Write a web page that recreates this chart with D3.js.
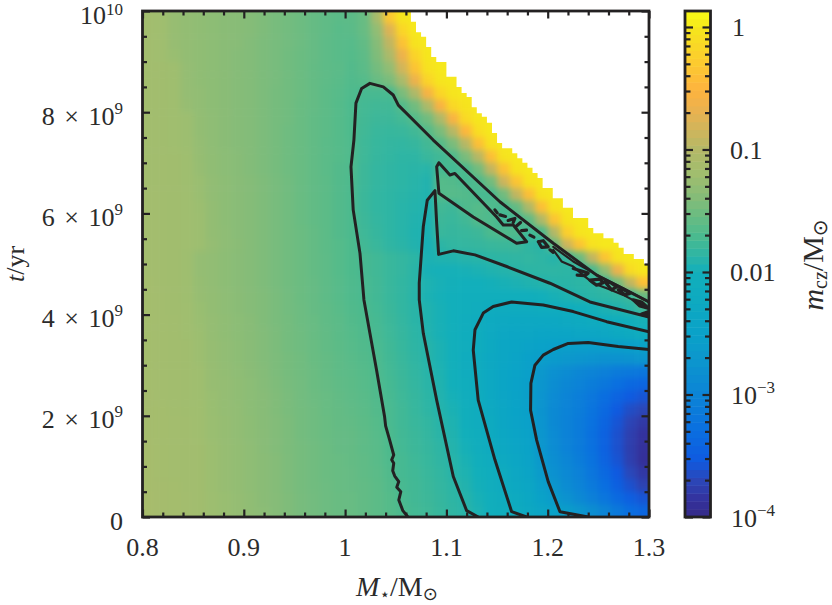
<!DOCTYPE html>
<html><head><meta charset="utf-8">
<script src="https://cdn.jsdelivr.net/npm/d3@7/dist/d3.min.js"></script>
<style>
html,body{margin:0;padding:0;background:#fff}
svg{display:block}
text{font-family:"Liberation Serif",serif;fill:#2b2b2b}
</style></head><body><svg id="c" width="832" height="605"></svg>
<script>
// Grid: -100*log10(m_cz/Msun); rows from t = 10 Gyr (top) down to 0, columns from M = 0.8 to 1.3
const depthRows=[
[118,120,126,129,131,133,135,137,139,142,146,149,152,156,159,162,161,155,112,33,2,0,0,0,0,0,0,0,0,0,0,0,0,0,0,0,0,0,0,0],
[118,120,126,129,131,133,135,137,139,142,146,149,152,156,159,163,162,155,130,75,17,0,0,0,0,0,0,0,0,0,0,0,0,0,0,0,0,0,0,0],
[118,120,126,129,131,133,135,137,140,143,146,149,152,156,160,163,164,158,138,92,37,4,0,0,0,0,0,0,0,0,0,0,0,0,0,0,0,0,0,0],
[118,120,125,129,131,133,135,138,140,143,146,150,153,156,160,163,165,160,142,108,65,20,1,0,0,0,0,0,0,0,0,0,0,0,0,0,0,0,0,0],
[118,119,121,128,131,133,135,138,140,143,146,150,153,157,160,162,166,162,148,130,82,35,5,0,0,0,0,0,0,0,0,0,0,0,0,0,0,0,0,0],
[118,119,121,128,131,133,135,138,140,143,146,150,153,157,160,163,167,165,155,145,110,65,20,2,0,0,0,0,0,0,0,0,0,0,0,0,0,0,0,0],
[118,119,121,128,130,133,135,138,140,143,147,150,153,157,161,164,168,172,172,171,145,105,57,17,2,0,0,0,0,0,0,0,0,0,0,0,0,0,0,0],
[118,119,120,126,130,133,135,138,140,143,147,150,154,157,161,165,170,174,176,176,166,150,108,55,15,3,0,0,0,0,0,0,0,0,0,0,0,0,0,0],
[118,119,120,122,129,132,135,138,140,143,147,150,154,158,161,165,169,175,178,178,174,165,150,108,55,13,1,0,0,0,0,0,0,0,0,0,0,0,0,0],
[118,119,120,122,129,132,135,138,140,143,147,151,154,158,161,165,169,176,180,181,180,176,165,145,98,48,9,0,0,0,0,0,0,0,0,0,0,0,0,0],
[118,119,120,122,128,132,135,138,140,143,147,151,154,158,162,165,168,177,181,183,184,182,175,165,145,98,40,5,0,0,0,0,0,0,0,0,0,0,0,0],
[118,118,119,121,127,131,134,137,140,143,147,151,154,158,162,165,168,177,182,184,186,186,180,176,168,145,98,40,4,0,0,0,0,0,0,0,0,0,0,0],
[118,118,119,121,126,131,134,137,140,143,147,151,154,158,162,166,168,178,183,185,187,188,189,172,174,170,150,92,37,3,0,0,0,0,0,0,0,0,0,0],
[118,118,119,121,124,130,133,136,139,142,146,150,154,158,161,166,169,178,183,185,187,189,192,165,166,172,168,150,85,35,3,0,0,0,0,0,0,0,0,0],
[117,118,119,120,124,130,133,136,139,142,146,150,154,158,161,166,170,179,184,186,188,190,193,166,164,166,172,172,150,92,40,4,0,0,0,0,0,0,0,0],
[117,118,119,120,123,129,133,136,139,142,146,150,154,158,161,166,170,179,184,186,189,191,194,175,178,168,165,168,172,158,105,40,4,0,0,0,0,0,0,0],
[117,118,119,120,122,129,133,136,139,142,146,150,154,158,161,166,170,178,183,186,189,192,195,178,180,176,166,168,175,174,160,105,35,3,0,0,0,0,0,0],
[117,118,119,120,122,129,132,136,139,142,146,150,153,157,161,166,170,177,182,186,189,193,196,180,182,180,178,170,167,168,176,170,100,25,2,0,0,0,0,0],
[117,118,119,120,122,128,132,135,139,142,146,150,153,157,161,165,169,175,180,185,188,192,197,187,184,183,182,180,179,178,185,188,155,85,35,5,0,0,0,0],
[117,118,119,121,128,130,133,136,139,142,146,150,153,157,160,165,169,172,176,180,183,187,195,193,192,190,189,187,186,185,184,186,190,180,155,92,35,4,0,0],
[117,118,119,121,128,130,133,136,139,142,146,150,153,157,160,165,169,172,176,180,183,188,197,198,198,197,195,193,191,188,187,186,186,187,188,172,130,65,12,1],
[116,118,119,121,127,130,133,136,139,142,146,150,153,156,160,164,168,171,175,180,184,188,194,197,199,200,200,199,197,195,193,191,189,188,187,186,180,150,92,40],
[116,117,119,121,126,129,132,135,138,141,145,149,153,156,160,164,168,171,175,180,184,189,195,198,200,203,205,206,206,205,203,200,197,194,190,188,186,184,178,155],
[116,117,119,120,125,129,132,135,138,141,145,149,152,156,159,163,167,170,174,179,184,188,193,197,200,205,208,216,219,219,217,216,214,210,206,200,195,192,188,175],
[116,117,118,120,124,128,131,134,137,141,145,148,152,155,159,162,166,169,173,178,183,188,193,197,201,207,214,222,226,228,229,229,228,226,223,220,215,210,205,198],
[116,117,118,120,123,128,131,134,137,140,144,148,151,155,158,162,165,168,172,177,182,187,192,197,202,209,216,225,232,236,238,240,240,240,238,236,232,227,221,214],
[116,117,118,119,122,127,130,133,136,140,144,148,151,154,158,161,164,167,171,176,181,186,190,195,201,208,216,227,235,241,245,250,253,256,258,258,257,255,253,250],
[116,117,118,119,122,127,130,133,136,140,143,147,150,154,157,160,163,166,170,175,180,185,190,195,201,213,219,228,236,244,252,257,262,268,272,275,278,278,276,272],
[116,117,118,119,121,126,129,132,135,139,143,147,150,153,157,160,162,165,169,174,179,184,189,194,201,212,219,230,240,248,254,268,280,288,295,300,306,312,316,318],
[116,117,118,119,121,126,128,131,134,138,142,146,149,153,156,159,161,164,168,173,178,183,188,193,200,210,217,230,240,249,255,272,286,295,302,310,318,328,336,340],
[115,117,118,119,121,125,128,131,134,137,141,145,149,152,155,158,160,163,167,172,177,182,187,192,198,208,216,229,239,248,255,274,290,300,308,318,330,342,352,358],
[115,116,118,119,120,125,128,130,134,137,141,145,148,151,155,157,159,162,166,171,176,181,186,191,196,206,214,226,238,247,254,275,292,302,310,322,336,352,364,370],
[115,116,117,118,120,124,127,130,133,137,140,144,148,151,154,157,158,161,165,171,176,180,184,189,194,203,212,224,236,245,252,274,292,303,312,325,341,358,371,380],
[115,116,117,118,120,124,127,130,133,136,140,144,148,151,154,156,157,160,164,170,175,179,183,188,193,201,210,221,233,242,250,272,290,303,313,327,344,361,375,385],
[114,116,117,118,119,123,126,129,132,136,140,144,147,150,153,156,157,160,163,169,174,178,182,186,191,198,207,218,229,239,247,270,288,302,312,326,344,361,376,387],
[114,116,117,118,119,123,126,129,132,135,139,143,147,150,153,155,157,159,163,168,173,177,181,185,189,196,204,214,225,236,245,266,284,298,310,324,342,359,375,388],
[114,116,117,118,119,123,126,129,132,135,139,143,147,150,153,155,156,159,162,167,173,176,180,184,189,194,202,211,220,232,242,262,280,293,305,319,336,353,369,381],
[114,115,116,118,119,123,126,129,132,135,139,143,147,150,152,155,156,158,161,166,172,175,179,183,187,192,199,208,217,228,238,256,272,287,300,314,329,346,361,373],
[113,115,116,117,119,122,125,128,131,135,138,142,146,149,152,154,155,158,161,165,171,175,178,182,186,190,197,205,214,224,234,250,262,278,292,306,319,335,348,358],
[113,115,116,117,119,122,125,128,131,134,138,142,146,149,152,154,155,158,161,165,170,174,177,181,185,189,195,203,211,219,229,239,249,259,272,285,300,315,330,340]
];
// Upper limit of the models: mass where each step starts and top age (Gyr)
const edgeMass=[1.065,1.07,1.075,1.08,1.085,1.09,1.10,1.11,1.115,1.12,1.125,1.13,1.135,1.14,1.145,1.15,1.155,1.165,1.17,1.175,1.18,1.185,1.19,1.195,1.205,1.215,1.225,1.24,1.245,1.255,1.265,1.27,1.275,1.285,1.295,1.30];
const edgeAge=[9.79,9.58,9.49,9.29,9.09,8.99,8.70,8.50,8.38,8.30,8.10,7.98,7.91,7.79,7.59,7.39,7.29,7.19,7.09,7.00,6.90,6.80,6.70,6.50,6.30,6.11,5.91,5.71,5.61,5.51,5.42,5.32,5.20,5.10,5.00,5.00];
// Contours as [M, t(Gyr)]
const contourA=[[1.062,0],[1.057,.125],[1.053,.336],[1.055,.50],[1.051,.587],[1.053,.70],[1.049,.81],[1.047,.915],[1.048,1.06],[1.046,1.13],[1.048,1.225],[1.044,1.52],[1.040,1.80],[1.039,1.98],[1.031,2.91],[1.0245,3.63],[1.0186,4.29],[1.0147,5.21],[1.008,6.07],[1.0058,6.92],[1.0087,7.45],[1.0107,8.18],[1.0163,8.47],[1.0245,8.57],[1.0377,8.50],[1.0475,8.34],[1.0525,8.14],[1.087,7.45],[1.1528,6.23],[1.2055,5.41],[1.2483,4.78],[1.30,4.25]];
const contourB=[[1.1314,0],[1.12,.125],[1.1068,.80],[1.0904,2.31],[1.0772,3.63],[1.0732,4.29],[1.0732,4.62],[1.0772,5.74],[1.0811,6.26],[1.0887,6.45],[1.0904,5.80],[1.0923,5.19],[1.1068,5.26],[1.1282,5.18],[1.1595,4.95],[1.2022,4.62],[1.2417,4.25],[1.30,3.95]];
const contourC=[[1.1792,0],[1.1644,.105],[1.1479,1.13],[1.1314,2.31],[1.1265,3.30],[1.1282,3.70],[1.1364,4.03],[1.1462,4.16],[1.1644,4.25],[1.1956,4.19],[1.2252,4.06],[1.2582,3.86],[1.30,3.66]];
const contourD=[[1.24,0],[1.2121,.105],[1.2005,.70],[1.1891,1.52],[1.1831,2.11],[1.1834,2.64],[1.1874,3.0],[1.1956,3.20],[1.2055,3.31],[1.2203,3.43],[1.24,3.45],[1.2696,3.37],[1.30,3.31]];
const contourE=[[1.0926,7.0],[1.1035,6.76],[1.1084,6.79],[1.1496,5.93],[1.1561,5.77],[1.166,5.77],[1.1792,5.44],[1.1693,5.41],[1.1265,5.93],[1.0926,6.40],[1.0904,6.92],[1.0926,7.0]];
const lensLower=[[1.2055,5.28],[1.2137,5.05],[1.2252,4.95],[1.235,4.78],[1.2449,4.62],[1.2582,4.52],[1.2745,4.39],[1.30,4.12]];
const lensUpper=[[1.2055,5.34],[1.2252,5.05],[1.2516,4.75],[1.2745,4.52],[1.30,4.25]];
const islands=[
[[1.1479,6.07],[1.1502,6.01]],
[[1.1528,5.97],[1.1584,5.94]],
[[1.1610,5.86],[1.1676,5.90],[1.166,5.82]],
[[1.1686,5.74],[1.1732,5.82]],
[[1.1742,5.66],[1.1791,5.67]],
[[1.1824,5.57],[1.1864,5.53]],
[[1.1907,5.44],[1.1956,5.46],[1.2005,5.34],[1.1940,5.33],[1.1907,5.44]],
[[1.2022,5.28],[1.2055,5.23]],
[[1.2252,4.91],[1.2318,4.87],[1.2400,4.82],[1.2367,4.77],[1.2291,4.78]],
[[1.2417,4.68],[1.2482,4.58],[1.2548,4.63],[1.2515,4.70],[1.2417,4.68]],
[[1.2565,4.65],[1.2630,4.49],[1.2680,4.55],[1.2621,4.63],[1.2565,4.65]],
[[1.2696,4.49],[1.2762,4.39],[1.2811,4.42],[1.2746,4.50],[1.2696,4.49]],
[[1.2844,4.29],[1.2927,4.25],[1.30,4.12],[1.2910,4.17],[1.2844,4.29]],
[[1.2927,4.01],[1.30,4.06],[1.30,3.96],[1.2927,4.01]]
];
// Colour map
const colorLog=[-4,-3.861,-3.698,-3.535,-3.29,-3.004,-2.718,-2.498,-2.229,-2,-1.861,-1.698,-1.51,-1.388,-1.208,-1.004,-0.841,-0.678,-0.514,-0.27,-0.024,0.13];
const colorHex=["#352a87","#34319c","#2b47b8","#0f5ae0","#0a6fe0","#0c84d6","#0c96cd","#0aa2c8","#0eaac0","#12afbb","#2eb5a4","#4cba8e","#6fbc80","#85bc78","#9fbe6f","#b3b867","#cfb55c","#eab24f","#fdb33f","#fccd2e","#f6e41e","#f9fb15"];
const xMajor=[0.8,0.9,1,1.1,1.2,1.3];
const xMinor=[0.82,0.84,0.86,0.88,0.92,0.94,0.96,0.98,1.02,1.04,1.06,1.08,1.12,1.14,1.16,1.18,1.22,1.24,1.26,1.28];
const xLabels=["0.8","0.9","1","1.1","1.2","1.3"];
const yMajor=[0,2,4,6,8,10];
const yMinor=[0.5,1,1.5,2.5,3,3.5,4.5,5,5.5,6.5,7,7.5,8.5,9,9.5];
const yLabelBase=["0","2 × 10","4 × 10","6 × 10","8 × 10","10"];
const yLabelExp=["","9","9","9","9","10"];
const barMajor=[1e-4,1e-3,1e-2,1e-1,1];
const barMinor=[2,3,4,5,6,7,8,9].flatMap(k=>[1e-4,1e-3,1e-2,1e-1].map(d=>k*d));
const barLabelBase=["10","10","0.01","0.1","1"];
const barLabelExp=["−4","−3","","",""];

const svg=d3.select("#c");
const ink="#232122";
const x=d3.scaleLinear().domain([0.8,1.3]).range([142.5,649]);
const y=d3.scaleLinear().domain([0,10]).range([517,11]);
const barY=d3.scaleLog().domain([1e-4,1.35]).range([517,11]);
const color=d3.scaleLinear().domain(colorLog).range(colorHex);
const nRows=depthRows.length,nCols=depthRows[0].length;
const dM=0.5/nCols,dT=10/nRows;

const defs=svg.append("defs");
defs.append("clipPath").attr("id","plotClip").append("rect")
 .attr("x",x(0.8)).attr("y",y(10)).attr("width",x(1.3)-x(0.8)).attr("height",y(0)-y(10));
const f=defs.append("filter").attr("id","soft").attr("filterUnits","userSpaceOnUse")
 .attr("x",100).attr("y",-30).attr("width",600).attr("height",600)
 .attr("color-interpolation-filters","sRGB");
f.append("feGaussianBlur").attr("stdDeviation",3.0);

const plot=svg.append("g").attr("clip-path","url(#plotClip)");
const heat=plot.append("g").attr("filter","url(#soft)");
const pad=16;
depthRows.forEach((row,r)=>{
  const tTop=10-r*dT;
  heat.selectAll(null).data(row).enter().append("rect")
   .attr("x",(d,c)=>x(0.8+c*dM)-(c===0?pad:0))
   .attr("width",(d,c)=>x(0.8+dM)-x(0.8)+0.6+(c===0||c===nCols-1?pad:0))
   .attr("y",y(tTop)-(r===0?pad:0))
   .attr("height",y(0)-y(dT)+0.6+(r===0||r===nRows-1?pad:0))
   .attr("fill",d=>color(-d/100));
});
// white region above the last models
plot.append("path").datum(edgeMass.map((m,i)=>[m,edgeAge[i]]))
 .attr("fill","#fff")
 .attr("d",d3.area().x(d=>x(d[0])).y0(y(10)-4).y1(d=>y(d[1])).curve(d3.curveStepAfter));
// contours
const line=d3.line().x(d=>x(d[0])).y(d=>y(d[1]));
const lines=plot.append("g").attr("fill","none").attr("stroke",ink).attr("stroke-linejoin","round").attr("stroke-linecap","round");
lines.selectAll("path.main").data([contourA,contourB,contourC,contourD,contourE]).enter().append("path")
 .attr("class","main").attr("stroke-width",3).attr("d",line);
lines.selectAll("path.lens").data([lensLower,lensUpper]).enter().append("path")
 .attr("class","lens").attr("stroke-width",2.2).attr("d",line);
lines.selectAll("path.isl").data(islands).enter().append("path")
 .attr("class","isl").attr("stroke-width",3.2).attr("d",line);

// axes: ticks point inwards on all four sides
function styleAxis(g){g.select(".domain").remove();g.selectAll(".tick line").attr("stroke",ink).attr("stroke-width",2.2);g.selectAll(".tick text").remove();}
const axes=svg.append("g");
[[d3.axisBottom,y(0)],[d3.axisTop,y(10)]].forEach(([ax,pos])=>{
  axes.append("g").attr("transform","translate(0,"+pos+")").call(ax(x).tickValues(xMajor).tickSize(-7.5)).call(styleAxis);
  axes.append("g").attr("transform","translate(0,"+pos+")").call(ax(x).tickValues(xMinor).tickSize(-4.5)).call(styleAxis);
});
[[d3.axisLeft,x(0.8)],[d3.axisRight,x(1.3)]].forEach(([ax,pos])=>{
  axes.append("g").attr("transform","translate("+pos+",0)").call(ax(y).tickValues(yMajor).tickSize(-7.5)).call(styleAxis);
  axes.append("g").attr("transform","translate("+pos+",0)").call(ax(y).tickValues(yMinor).tickSize(-4.5)).call(styleAxis);
});
axes.append("rect").attr("x",x(0.8)).attr("y",y(10)).attr("width",x(1.3)-x(0.8)).attr("height",y(0)-y(10))
 .attr("fill","none").attr("stroke",ink).attr("stroke-width",2.8);

// tick labels
const FS=26,SUP=17;
svg.selectAll("text.xl").data(xMajor).enter().append("text").attr("class","xl")
 .attr("x",d=>x(d)).attr("y",556).attr("text-anchor","middle").attr("font-size",FS)
 .text((d,i)=>xLabels[i]);
const yl=svg.selectAll("text.yl").data(yMajor).enter().append("text").attr("class","yl")
 .attr("x",123).attr("y",d=>y(d)+12.5).attr("text-anchor","end").attr("font-size",FS).attr("word-spacing",3);
yl.append("tspan").text((d,i)=>yLabelBase[i]);
yl.append("tspan").attr("dy",d=>d===10?-8.5:-11).attr("font-size",SUP).text((d,i)=>yLabelExp[i]);

// axis titles
const xt=svg.append("text").attr("x",397).attr("y",596).attr("text-anchor","middle").attr("font-size",28);
xt.append("tspan").attr("font-style","italic").text("M");
xt.append("tspan").attr("dy",4).attr("font-size",17).attr("style","font-family:'DejaVu Sans'").text("⋆");
xt.append("tspan").attr("dy",-4).text("/M");
xt.append("tspan").attr("dy",4).attr("font-size",18).attr("style","font-family:'DejaVu Sans'").text("⊙");
const yt=svg.append("text").attr("transform","translate(24,264) rotate(-90)").attr("text-anchor","middle").attr("font-size",26);
yt.append("tspan").attr("font-style","italic").text("t");
yt.append("tspan").text("/yr");

// colour bar
const barX0=685,barX1=710.5;
const bar=svg.append("g");
const levels=d3.range(0,64);
const barLog=d3.scaleLinear().domain([0,64]).range([-4,Math.log10(1.35)]);
bar.selectAll("rect").data(levels).enter().append("rect")
 .attr("x",barX0).attr("width",barX1-barX0)
 .attr("y",d=>barY(Math.pow(10,barLog(d+1))))
 .attr("height",d=>barY(Math.pow(10,barLog(d)))-barY(Math.pow(10,barLog(d+1)))+0.5)
 .attr("fill",d=>color(barLog(d+0.5)));
[[d3.axisLeft,barX0],[d3.axisRight,barX1]].forEach(([ax,pos])=>{
  bar.append("g").attr("transform","translate("+pos+",0)").call(ax(barY).tickValues(barMajor).tickSize(-8)).call(styleAxis);
  bar.append("g").attr("transform","translate("+pos+",0)").call(ax(barY).tickValues(barMinor).tickSize(-5.5)).call(styleAxis);
});
bar.append("rect").attr("x",barX0).attr("y",11).attr("width",barX1-barX0).attr("height",506)
 .attr("fill","none").attr("stroke",ink).attr("stroke-width",2.8);
const bl=svg.selectAll("text.bl").data(barMajor).enter().append("text").attr("class","bl")
 .attr("x",(d,i)=>(i<2?731:i===4?732:730)).attr("y",d=>barY(d)+9.5).attr("font-size",FS);
bl.append("tspan").text((d,i)=>barLabelBase[i]);
bl.append("tspan").attr("dy",-11).attr("font-size",SUP).text((d,i)=>barLabelExp[i]);
const bt=svg.append("text").attr("transform","translate(823,265) rotate(-90)").attr("text-anchor","middle").attr("font-size",30);
bt.append("tspan").attr("font-style","italic").text("m");
bt.append("tspan").attr("dy",4).attr("font-size",20).text("cz");
bt.append("tspan").attr("dy",-4).text("/M");
bt.append("tspan").attr("dy",4).attr("font-size",20).attr("style","font-family:'DejaVu Sans'").text("⊙");
</script></body></html>
